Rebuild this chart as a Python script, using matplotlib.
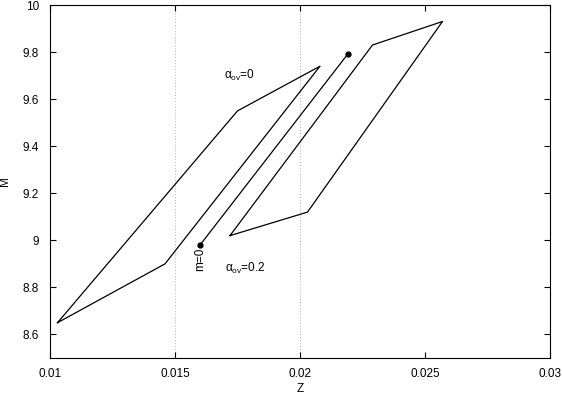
import matplotlib
matplotlib.use("Agg")
import matplotlib.pyplot as plt

plt.rcParams["font.family"] = ["Liberation Sans", "DejaVu Sans"]
plt.rcParams["font.size"] = 8.5
plt.rcParams["mathtext.fontset"] = "custom"
plt.rcParams["mathtext.rm"] = "Liberation Sans"

# alpha_ov = 0 track
z_a0 = [0.0103, 0.0146, 0.0208, 0.0175, 0.0103]
m_a0 = [8.65, 8.90, 9.74, 9.55, 8.65]

# alpha_ov = 0.2 track
z_a2 = [0.0172, 0.0203, 0.0257, 0.0229, 0.0172]
m_a2 = [9.02, 9.12, 9.93, 9.83, 9.02]

# m=0 line with end points
z_m0 = [0.0160, 0.0219]
m_m0 = [8.98, 9.79]

grid_z = [0.015, 0.02]
xticks = [0.01, 0.015, 0.02, 0.025, 0.03]
xlabels = ["0.01", "0.015", "0.02", "0.025", "0.03"]
yticks = [8.6, 8.8, 9.0, 9.2, 9.4, 9.6, 9.8, 10.0]
ylabels = ["8.6", "8.8", "9", "9.2", "9.4", "9.6", "9.8", "10"]

fig, ax = plt.subplots(figsize=(5.62, 3.95), dpi=100)
fig.subplots_adjust(left=50 / 562, right=550 / 562, top=1 - 5 / 395, bottom=1 - 358 / 395)

for g in grid_z:
    ax.axvline(g, color="#b0b0b0", lw=0.7, ls=(0, (1, 2)), zorder=0)

ax.plot(z_a0, m_a0, color="black", lw=0.9)
ax.plot(z_a2, m_a2, color="black", lw=0.9)
ax.plot(z_m0, m_m0, color="black", lw=0.9)
ax.plot(z_m0, m_m0, "o", color="black", ms=3.5)

ax.text(0.01696, 9.70, "α$_{\\rm ov}$=0", va="center", ha="left")
ax.text(0.01700, 8.88, "α$_{\\rm ov}$=0.2", va="center", ha="left")
ax.text(0.0160, 8.92, "m=0", rotation=90, va="center", ha="center")

ax.set_xlim(0.01, 0.03)
ax.set_ylim(8.5, 10.0)
ax.set_xticks(xticks)
ax.set_xticklabels(xlabels)
ax.set_yticks(yticks)
ax.set_yticklabels(ylabels)
ax.tick_params(direction="in", top=True, right=True, length=4, width=0.8)
ax.tick_params(axis="x", pad=7)
ax.tick_params(axis="y", pad=8)
ax.set_xlabel("Z", labelpad=2)
ax.set_ylabel("M", labelpad=8)

plt.savefig("out.png", dpi=100)
